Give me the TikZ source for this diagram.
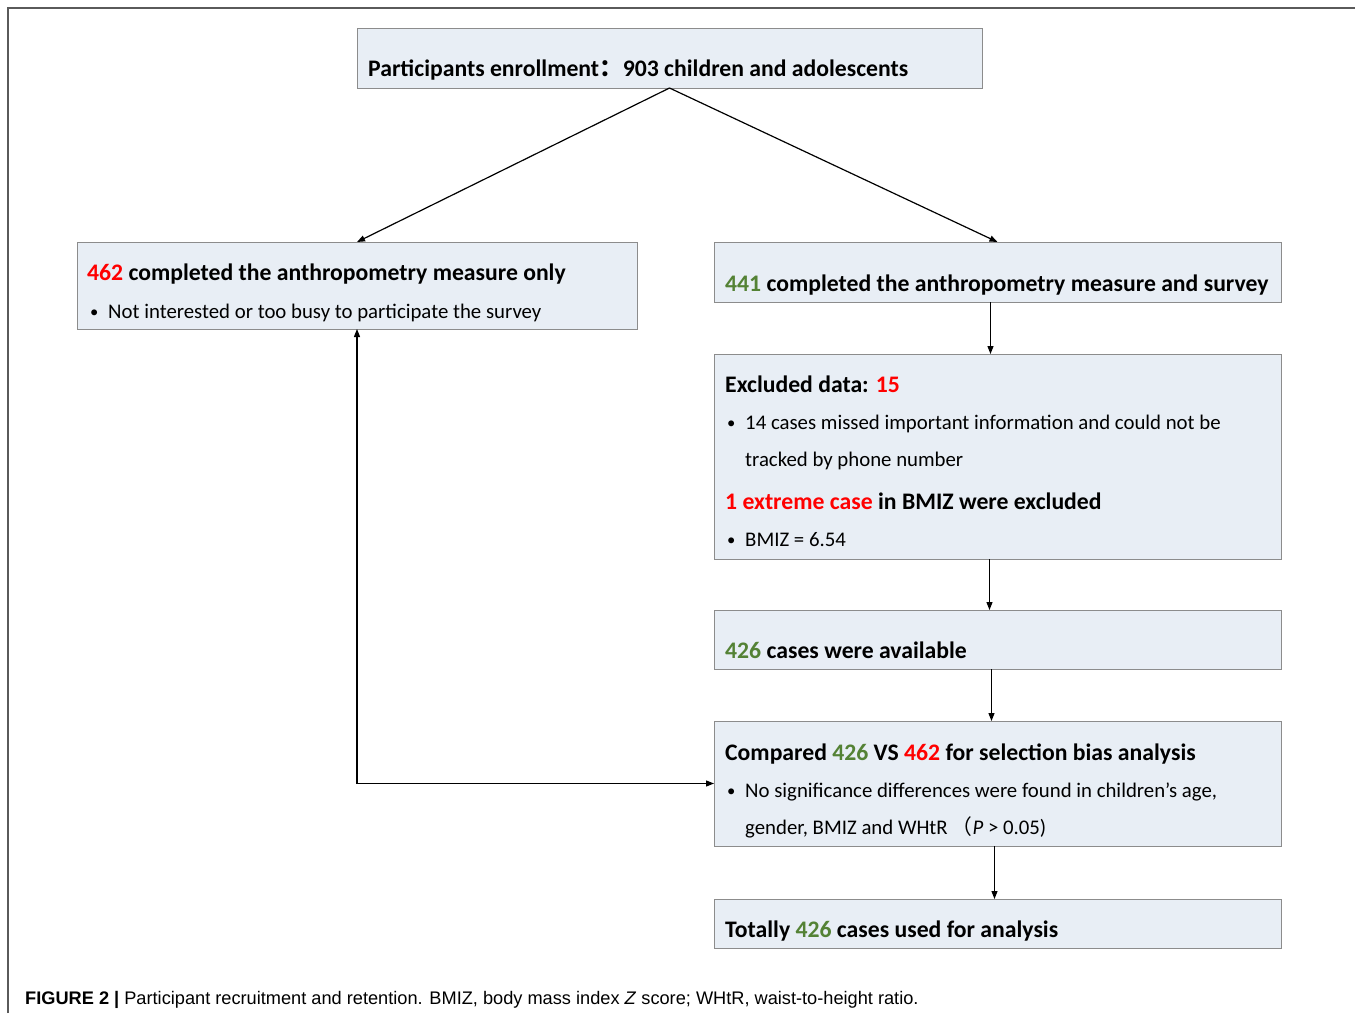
\documentclass[tikz,border=0pt]{standalone}
\usepackage{fontspec}
\setmainfont{Carlito}
\newfontfamily\capfont{Liberation Sans}
\newfontfamily\cjk{Noto Sans CJK SC}
\usetikzlibrary{arrows.meta, positioning, calc}

\definecolor{boxfill}{RGB}{232,238,245}
\definecolor{boxline}{RGB}{140,140,140}
\definecolor{numgreen}{RGB}{84,130,53}
\definecolor{numred}{RGB}{255,0,0}
\definecolor{framegray}{RGB}{90,90,90}

\newcommand{\rednum}[1]{\textcolor{numred}{#1}}
\newcommand{\greennum}[1]{\textcolor{numgreen}{#1}}
\newcommand{\bul}{\makebox[18pt][l]{\raisebox{0.5pt}{\scalebox{0.8}{•}}}}

\begin{document}
\begin{tikzpicture}[x=1pt, y=-1pt]
    % --- Style Definitions ---
    \tikzset{
        % Flow chart boxes
        box style/.style={
            draw=boxline,
            fill=boxfill,
            line width=1pt,
            anchor=north west,
            inner sep=0pt,
            outer sep=0pt
        },
        % Text styling
        head text/.style={anchor=base west, inner sep=0pt, font=\fontsize{23.7}{28}\selectfont\bfseries},
        body text/.style={anchor=base west, inner sep=0pt, font=\fontsize{20.8}{25}\selectfont},
        caption text/.style={anchor=base west, inner sep=0pt, font=\capfont\fontsize{18.2}{21}\selectfont},
        % Arrow styling
        flow arrow/.style={
            -{Triangle[length=8pt, width=6pt]},
            line width=1.2pt,
            black
        }
    }

    \useasboundingbox (0,0) rectangle (1355,1013);

    % Outer frame
    \draw[framegray, line width=1.3pt] (8,1013) -- (8,8) -- (1355,8);

    % ==========================================
    % TOP: Enrollment
    % ==========================================
    \node[box style, minimum width=625pt, minimum height=60pt] (enroll) at (357,28) {};
    \node[head text] (enroll_txt) at (368,76)
        {Participants enrollment{\cjk ：}903 children and adolescents};

    % ==========================================
    % LEFT: Anthropometry only
    % ==========================================
    \node[box style, minimum width=560pt, minimum height=87pt] (only) at (77,242) {};
    \node[head text] (only_txt) at (87,280)
        {\rednum{462} completed the anthropometry measure only};
    \node[body text] (only_bul) at (90,318)
        {\bul Not interested or too busy to participate the survey};

    % ==========================================
    % RIGHT: Main flow
    % ==========================================
    % 1. Measure and survey
    \node[box style, minimum width=567pt, minimum height=60pt] (survey) at (714,242) {};
    \node[head text] (survey_txt) at (725,291)
        {\greennum{441} completed the anthropometry measure and survey};

    % 2. Excluded data
    \node[box style, minimum width=567pt, minimum height=205pt] (excl) at (714,354) {};
    \node[head text] (excl_txt) at (725,392) {Excluded data: \rednum{15}};
    \node[body text] (excl_bul) at (727,429)
        {\bul 14 cases missed important information and could not be};
    \node[body text] (excl_cont) at (745,466) {tracked by phone number};
    \node[head text] (excl_ext) at (725,509)
        {\rednum{1 extreme case} in BMIZ were excluded};
    \node[body text] (excl_bmiz) at (727,546) {\bul BMIZ = 6.54};

    % 3. Available cases
    \node[box style, minimum width=567pt, minimum height=59pt] (avail) at (714,610) {};
    \node[head text] (avail_txt) at (725,658) {\greennum{426} cases were available};

    % 4. Comparison
    \node[box style, minimum width=567pt, minimum height=125pt] (comp) at (714,721) {};
    \node[head text] (comp_txt) at (725,760)
        {Compared \greennum{426} VS \rednum{462} for selection bias analysis};
    \node[body text] (comp_bul) at (727,797)
        {\bul No significance differences were found in children’s age,};
    \node[body text] (comp_cont) at (745,834)
        {gender, BMIZ and WHtR\hspace{4pt}{\cjk （}\textit{P} > 0.05)};

    % 5. Final
    \node[box style, minimum width=567pt, minimum height=49pt] (final) at (714,899) {};
    \node[head text] (final_txt) at (725,937)
        {Totally \greennum{426} cases used for analysis};

    % ==========================================
    % Arrows
    % ==========================================
    \draw[flow arrow] (enroll.south) -- (only.north);
    \draw[flow arrow] (enroll.south) -- (survey.north);
    \draw[flow arrow] ([xshift=-7pt]survey.south) -- ([xshift=-7pt]excl.north);
    \draw[flow arrow] ([xshift=-8pt]excl.south) -- ([xshift=-8pt]avail.north);
    \draw[flow arrow] ([xshift=-6pt]avail.south) -- ([xshift=-6pt]comp.north);
    \draw[flow arrow] ([xshift=-3pt]comp.south) -- ([xshift=-3pt]final.north);
    \draw[flow arrow, {Triangle[length=8pt, width=6pt]}-{Triangle[length=8pt, width=6pt]}]
        (only.south) |- (comp.west);

    % Caption
    \node[caption text] (caption) at (25,1004)
        {\textbf{FIGURE 2 |} Participant recruitment and retention. BMIZ, body mass index \textit{Z} score; WHtR, waist-to-height ratio.};

\end{tikzpicture}
\end{document}
